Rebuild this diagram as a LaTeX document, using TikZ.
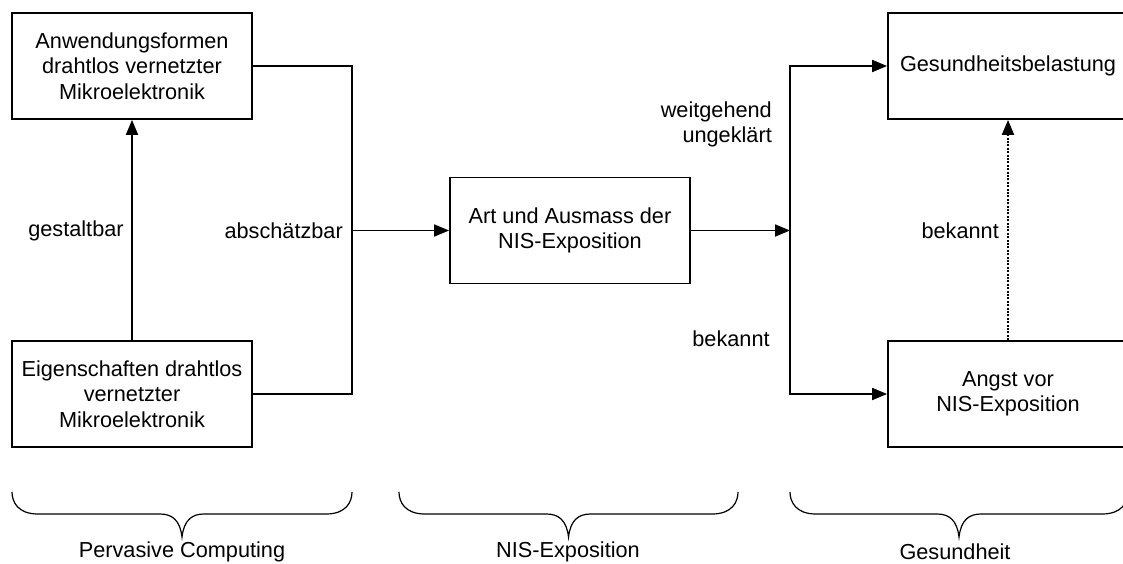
\documentclass[tikz,border=0pt]{standalone}
\usepackage{fontspec}
\setmainfont{Liberation Sans}
\usetikzlibrary{arrows.meta}
\newcommand\figfont{\fontsize{21.7}{25.5}\selectfont}
\begin{document}
\begin{tikzpicture}[x=1pt,y=-1pt,
  box/.style={draw, line width=1.8pt, minimum width=240pt, minimum height=106pt, inner sep=0pt, align=center, font=\figfont},
  lbl/.style={inner sep=0pt, align=center, font=\figfont},
  conn/.style={line width=1.8pt},
  arr/.style={line width=1.8pt, -{Triangle[length=15pt,width=12pt]}},
  dotarr/.style={arr, line width=2pt, dash pattern=on 2pt off 1.4pt},
  brace/.style={line width=1.2pt},
  pics/bracepic/.style={code={
    \draw[brace] (-#1,0) .. controls (-#1,10) and (-#1+6,22) .. (-#1+26,22) -- (-22,22)
      .. controls (-10,22) and (-2,28) .. (0,45)
      .. controls (2,28) and (10,22) .. (22,22) -- (#1-26,22)
      .. controls (#1-6,22) and (#1,10) .. (#1,0);
  }}]
\useasboundingbox (0,0) rectangle (1123,563);
\clip (0,0) rectangle (1123,563);

% boxes
\node[box] (anw) at (132,66) {Anwendungsformen\\drahtlos vernetzter\\Mikroelektronik};
\node[box] (eig) at (132,394) {Eigenschaften drahtlos\\vernetzter\\Mikroelektronik};
\node[box] (art) at (570,230.5) {Art und Ausmass der\\NIS-Exposition};
\node[box] (ges) at (1008,66) {Gesundheitsbelastung};
\node[box] (ang) at (1008,394) {Angst vor\\NIS-Exposition};

% junctions
\coordinate (j1) at (352,230.5);
\coordinate (j2) at (790,230.5);

% connectors
\draw[arr] (eig) -- (anw);
\draw[conn] (anw.east) -| (j1);
\draw[conn] (eig.east) -| (j1);
\draw[arr] (j1) -- (art.west);
\draw[arr] (art.east) -- (j2);
\draw[arr] (j2) |- (ges.west);
\draw[arr] (j2) |- (ang.west);
\draw[dotarr] (ang) -- (ges);

% connector labels
\node[lbl] (l1) at (76,231) {gestaltbar};
\node[lbl, anchor=east] (l2) at (343,231) {abschätzbar};
\node[lbl, anchor=east, align=right] (l3) at (772,124.5) {weitgehend\\ungeklärt};
\node[lbl] (l4) at (731,339) {bekannt};
\node[lbl, anchor=east] (l5) at (999,231) {bekannt};

% braces
\pic at (182,492) {bracepic=170};
\pic at (568.5,492) {bracepic=169.5};
\pic at (959,492) {bracepic=169};
\node[lbl] (b1) at (182,552) {Pervasive Computing};
\node[lbl] (b2) at (568,552) {NIS-Exposition};
\node[lbl] (b3) at (955,552) {Gesundheit};
\end{tikzpicture}
\end{document}
